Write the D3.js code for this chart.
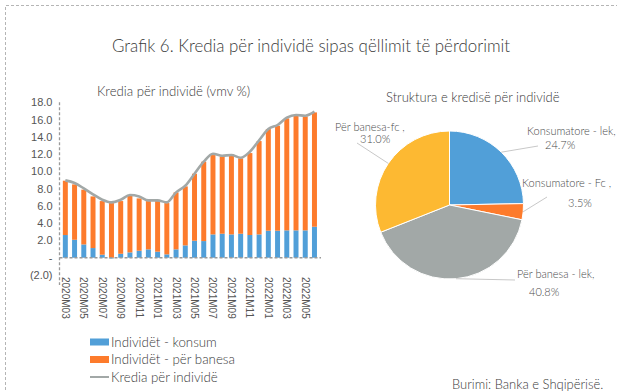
<!DOCTYPE html>
<html>
<head>
<meta charset="utf-8">
<script src="https://cdn.jsdelivr.net/npm/d3@7"></script>
<style>
  body { margin: 0; background: #fff; }
  svg { display: block; font-family: Lato, "Open Sans", sans-serif; font-weight: 300; }
</style>
</head>
<body>
<svg id="chart" width="617" height="391"></svg>
<script>
// monthly, 2020M03 .. 2022M06
const months = ['2020M03','2020M04','2020M05','2020M06','2020M07','2020M08','2020M09','2020M10',
  '2020M11','2020M12','2021M01','2021M02','2021M03','2021M04','2021M05','2021M06','2021M07',
  '2021M08','2021M09','2021M10','2021M11','2021M12','2022M01','2022M02','2022M03','2022M04',
  '2022M05','2022M06'];
const konsum = [2.63, 2.08, 1.54, 1.12, 0.35, -0.08, 0.46, 0.62, 0.81, 0.97, 0.70, 0.39, 0.97, 1.43,
  1.97, 1.93, 2.70, 2.78, 2.70, 2.78, 2.63, 2.70, 3.13, 3.13, 3.17, 3.17, 3.17, 3.59];
const banesa = [6.29, 6.41, 6.34, 5.98, 6.21, 6.33, 6.10, 6.56, 6.06, 5.59, 5.86, 5.94, 6.60, 6.83,
  7.76, 9.19, 9.19, 8.96, 9.11, 8.73, 9.49, 10.81, 11.77, 12.16, 12.97, 13.28, 13.20, 13.24];
const kredia = [8.96, 8.65, 8.03, 7.34, 6.72, 6.41, 6.72, 7.26, 7.10, 6.64, 6.64, 6.41, 7.57, 8.34,
  9.73, 11.12, 12.05, 11.81, 11.89, 11.58, 12.28, 13.59, 14.90, 15.37, 16.22, 16.53, 16.45, 16.91];
const yTicks = [-2, 0, 2, 4, 6, 8, 10, 12, 14, 16, 18];

const pieLabels = ['Konsumatore - lek,', 'Konsumatore  - Fc ,', 'Për banesa - lek,', 'Për banesa-fc ,'];
const pieValues = [24.7, 3.5, 40.8, 31.0];

const blue = '#519fd8', orange = '#fd7b2c', grey = '#a2a8a7', yellow = '#fdb932';
const textCol = '#4a4a4a';

const svg = d3.select('#chart');

// dashed frame
svg.append('path')
  .attr('d', 'M5.5,400 V5.5 H620')
  .attr('fill', 'none')
  .attr('stroke', '#b5b5b5')
  .attr('stroke-dasharray', '3,2');

svg.append('text')
  .attr('x', 112).attr('y', 52)
  .attr('font-size', 16.9).attr('fill', '#3a3a3a')
  .text('Grafik 6. Kredia për individë sipas qëllimit të përdorimit');

// ---------- bars ----------
const x = d3.scaleBand().domain(months).range([58.6, 321.2]).padding(0.46);
const y = d3.scaleLinear().domain([-2, 18]).range([275, 102.3]);

const left = svg.append('g');

left.append('text')
  .attr('x', 97).attr('y', 96)
  .attr('font-size', 13.2).attr('fill', '#3a3a3a')
  .text('Kredia për individë (vmv %)');

const yAxis = left.append('g')
  .attr('transform', 'translate(59.5,0)')
  .call(d3.axisLeft(y).tickValues(yTicks).tickSize(0).tickPadding(7)
    .tickFormat(d => d === 0 ? '-' : d < 0 ? '(' + d3.format('.1f')(-d) + ')' : d3.format('.1f')(d)));
yAxis.select('.domain').remove();
yAxis.selectAll('text').attr('font-size', 11).attr('fill', '#555').style('font-family', 'inherit');

left.append('line')
  .attr('x1', 59.5).attr('x2', 59.5).attr('y1', y(18)).attr('y2', y(-2) + 10)
  .attr('stroke', '#9a9a9a').attr('stroke-width', 1.3).attr('stroke-dasharray', '3,2');

const bw = x.bandwidth();
left.selectAll('rect.konsum').data(months).join('rect')
  .attr('x', d => x(d))
  .attr('width', bw)
  .attr('y', (d, i) => y(Math.max(0, konsum[i])))
  .attr('height', (d, i) => Math.abs(y(konsum[i]) - y(0)))
  .attr('fill', blue);

left.selectAll('rect.banesa').data(months).join('rect')
  .attr('x', d => x(d))
  .attr('width', bw)
  .attr('y', (d, i) => y(Math.max(0, konsum[i]) + banesa[i]))
  .attr('height', (d, i) => y(Math.max(0, konsum[i])) - y(Math.max(0, konsum[i]) + banesa[i]))
  .attr('fill', orange);

// zero line
left.append('line')
  .attr('x1', 59.5).attr('x2', 321).attr('y1', y(0)).attr('y2', y(0))
  .attr('stroke', '#9a9a9a').attr('stroke-width', 1.3).attr('stroke-dasharray', '3,2');

const line = d3.line()
  .x((d, i) => x(months[i]) + bw / 2)
  .y(d => y(d))
  .curve(d3.curveMonotoneX);

left.append('path')
  .datum(kredia)
  .attr('d', line)
  .attr('fill', 'none')
  .attr('stroke', grey)
  .attr('stroke-width', 2.6);

const xAxis = left.append('g')
  .attr('transform', 'translate(0,' + y(-2) + ')')
  .call(d3.axisBottom(x).tickValues(months.filter((d, i) => i % 2 === 0)).tickSize(0).tickPadding(0));
xAxis.select('.domain').remove();
xAxis.selectAll('text')
  .attr('transform', 'rotate(90)')
  .attr('x', 2).attr('y', 0).attr('dy', '0.35em')
  .attr('text-anchor', 'start')
  .attr('font-size', 10).attr('fill', '#555').style('font-family', 'inherit');

// legend
const legendItems = [
  {name: 'Individët - konsum', col: blue, type: 'rect'},
  {name: 'Individët - për banesa', col: orange, type: 'rect'},
  {name: 'Kredia për individë', col: grey, type: 'line'}
];
const lg = left.selectAll('g.leg').data(legendItems).join('g')
  .attr('transform', (d, i) => 'translate(90,' + (342 + i * 17.5) + ')');
lg.append('rect')
  .attr('x', 0).attr('y', d => d.type === 'rect' ? -3.5 : -1)
  .attr('width', 19).attr('height', d => d.type === 'rect' ? 7 : 2)
  .attr('fill', d => d.col);
lg.append('text')
  .attr('x', 21).attr('y', 0).attr('dy', '0.35em')
  .attr('font-size', 13.3).attr('fill', '#3a3a3a')
  .text(d => d.name);

// ---------- pie ----------
const cx = 449.5, cy = 205, r = 74;
const right = svg.append('g');

right.append('text')
  .attr('x', 386).attr('y', 102)
  .attr('font-size', 13).attr('fill', '#3a3a3a')
  .text('Struktura e kredisë për individë');

const pie = d3.pie().sort(null).value(d => d);
const arc = d3.arc().innerRadius(0).outerRadius(r);
const arcs = pie(pieValues);

const pg = right.append('g').attr('transform', 'translate(' + cx + ',' + cy + ')');
pg.selectAll('path').data(arcs).join('path')
  .attr('d', arc)
  .attr('fill', (d, i) => [blue, orange, grey, yellow][i])
  .attr('stroke', '#fff')
  .attr('stroke-width', 1);

// label placement (name line, value line, leader end)
const labelPos = [
  {x: 527, y: 135, vx: 545, vy: 149, lx: 538, ly: 146},
  {x: 522, y: 187, vx: 568, vy: 207, lx: 547, ly: 197},
  {x: 517, y: 278, vx: 529, vy: 296, lx: 515, ly: 280},
  {x: 335, y: 131, vx: 360, vy: 143, lx: 357, ly: 143}
];
const outerArc = d3.arc().innerRadius(r).outerRadius(r);

right.selectAll('polyline').data(arcs).join('polyline')
  .attr('points', (d, i) => {
    const c = outerArc.centroid(d);
    return [[cx + c[0], cy + c[1]], [labelPos[i].lx, labelPos[i].ly]].map(p => p.join(',')).join(' ');
  })
  .attr('fill', 'none')
  .attr('stroke', '#c8c8c8')
  .attr('stroke-width', 1);

const pl = right.selectAll('g.pl').data(arcs).join('g');
pl.append('text')
  .attr('x', (d, i) => labelPos[i].x).attr('y', (d, i) => labelPos[i].y)
  .attr('font-size', 11).attr('fill', textCol)
  .text((d, i) => pieLabels[i]);
pl.append('text')
  .attr('x', (d, i) => labelPos[i].vx).attr('y', (d, i) => labelPos[i].vy)
  .attr('font-size', 11).attr('fill', textCol)
  .text(d => d3.format('.1f')(d.data) + '%');

svg.append('text')
  .attr('x', 452).attr('y', 389)
  .attr('font-size', 13).attr('fill', '#3a3a3a')
  .text('Burimi: Banka e Shqipërisë.');
</script>
</body>
</html>
